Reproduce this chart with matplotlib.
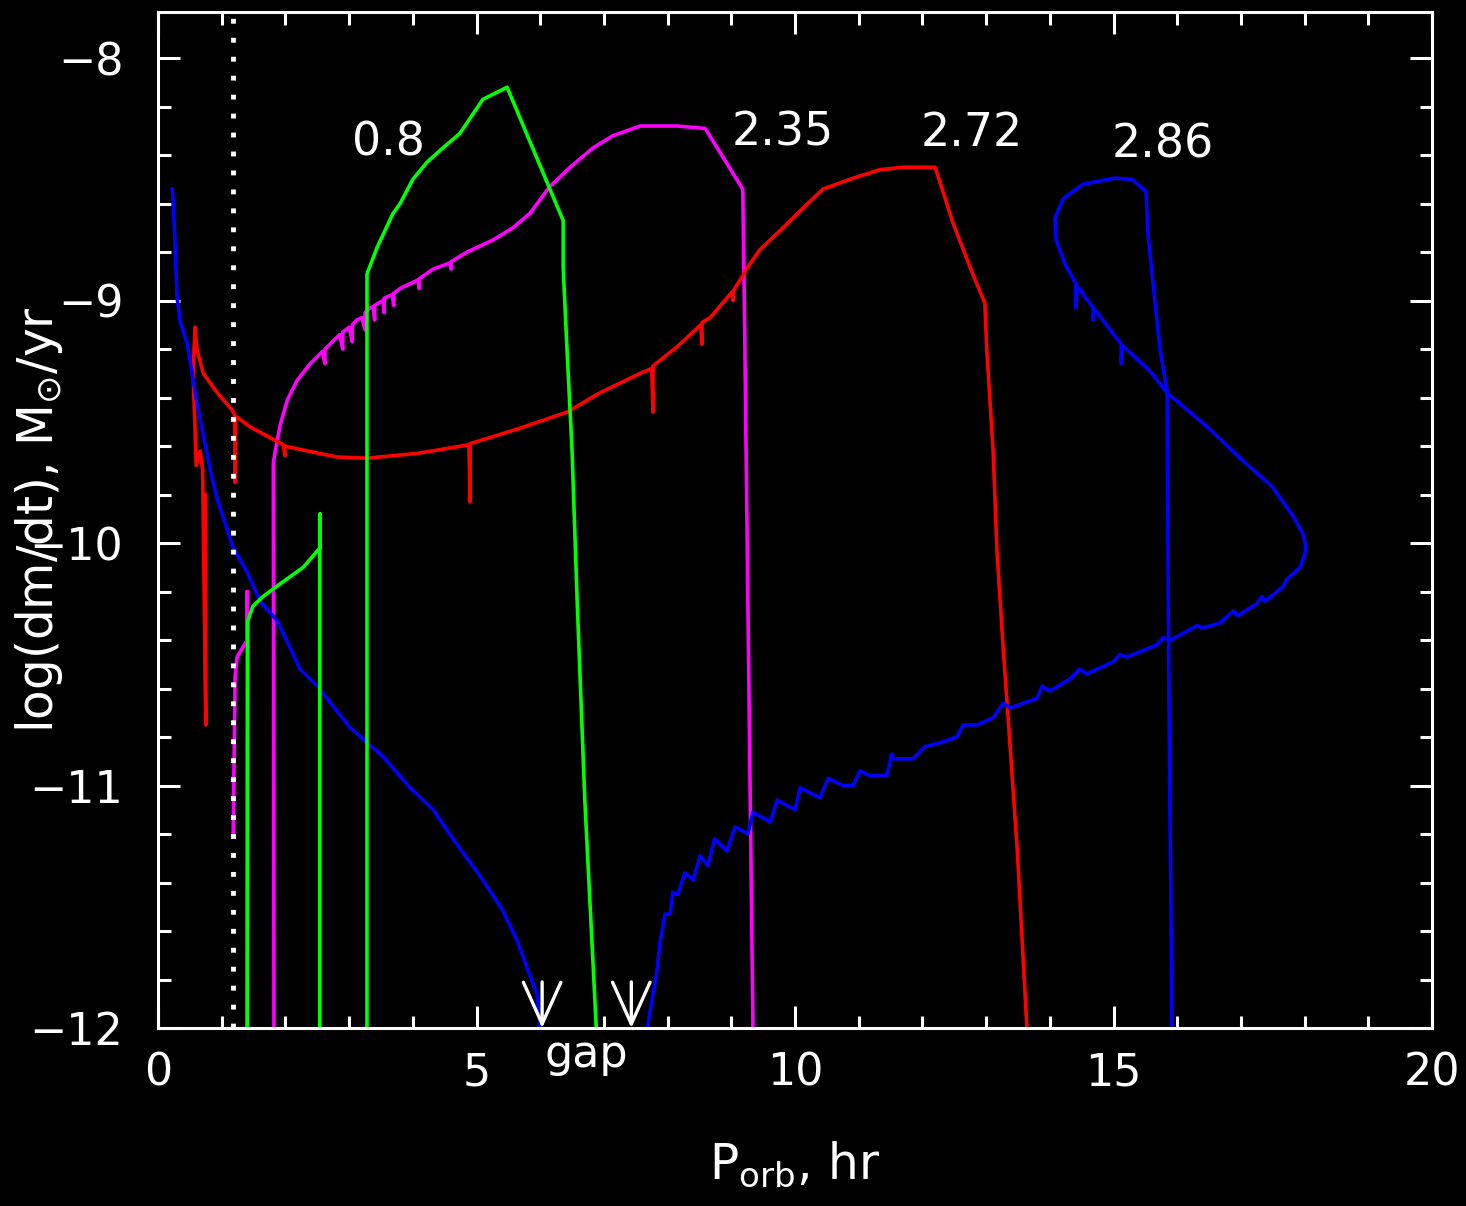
import matplotlib
matplotlib.use("Agg")
import matplotlib.pyplot as plt

# mass transfer tracks, log(dm/dt) vs P_orb (hr)
# blue track (2.86): loop + lower branch down to the gap
blue1_p = [15.92, 15.87, 15.84, 15.73, 15.62, 15.54, 15.51, 15.29, 15.02, 14.52, 14.21, 14.08, 14.10, 14.24,
           14.41, 14.41, 14.43, 14.68, 14.68, 14.70, 15.12, 15.12, 15.14, 15.57, 15.84, 16.47, 16.99, 17.50,
           17.82, 17.97, 18.02, 18.01, 17.93, 17.72, 17.66, 17.38, 17.33, 17.25, 16.95, 16.88, 16.67, 16.39,
           16.31, 16.25, 15.89, 15.78, 15.68, 15.21, 15.10, 14.99, 14.58, 14.47, 14.32, 14.00, 13.88, 13.80,
           13.38, 13.27, 13.11, 12.86, 12.64, 12.54, 12.32, 12.04, 11.85, 11.65, 11.54, 11.52, 11.44, 11.18,
           11.02, 10.91, 10.75, 10.52, 10.39, 10.08, 10.00, 9.72, 9.61, 9.34, 9.26, 9.06, 8.93, 8.74, 8.63,
           8.51, 8.40, 8.27, 8.16, 8.08, 8.04, 7.96, 7.88, 7.83, 7.68]
blue1_m = [-12.0, -10.65, -9.37, -9.20, -8.93, -8.72, -8.55, -8.50, -8.495, -8.52, -8.58, -8.66, -8.75, -8.85,
           -8.93, -9.03, -8.94, -9.03, -9.08, -9.035, -9.18, -9.26, -9.185, -9.29, -9.38, -9.52, -9.65, -9.77,
           -9.89, -9.96, -10.01, -10.04, -10.10, -10.15, -10.18, -10.24, -10.22, -10.25, -10.30, -10.28, -10.33,
           -10.35, -10.34, -10.35, -10.40, -10.39, -10.42, -10.47, -10.46, -10.49, -10.54, -10.52, -10.56,
           -10.61, -10.59, -10.64, -10.68, -10.66, -10.72, -10.75, -10.75, -10.80, -10.82, -10.84, -10.89,
           -10.89, -10.89, -10.87, -10.96, -10.96, -10.94, -11.00, -11.00, -10.97, -11.05, -11.01, -11.10,
           -11.06, -11.15, -11.11, -11.20, -11.17, -11.27, -11.22, -11.33, -11.29, -11.39, -11.36, -11.45,
           -11.44, -11.53, -11.53, -11.65, -11.77, -12.0]
# blue track below the gap
blue2_p = [6.00, 5.95, 5.79, 5.64, 5.40, 5.10, 4.63, 4.32, 3.96, 3.53, 3.01, 2.50, 2.23, 2.07, 1.87, 1.60,
           1.40, 1.18, 0.93, 0.82, 0.61, 0.46, 0.35, 0.30, 0.27, 0.24, 0.22]
blue2_m = [-12.0, -11.86, -11.75, -11.64, -11.51, -11.39, -11.22, -11.10, -11.01, -10.88, -10.76, -10.59,
           -10.52, -10.43, -10.32, -10.24, -10.12, -10.02, -9.82, -9.70, -9.42, -9.18, -9.09, -8.99, -8.79,
           -8.59, -8.54]

# red track (2.72)
red_p = [13.64, 13.49, 13.38, 13.27, 13.17, 13.11, 13.01, 12.98, 12.79, 12.48, 12.20, 11.70, 11.33, 10.86,
         10.44, 10.08, 9.81, 9.45, 9.29, 9.03, 9.03, 9.01, 8.67, 8.54, 8.54, 8.52, 8.15, 7.77, 7.77, 7.75,
         7.57, 6.94, 6.42, 5.64, 4.90, 4.90, 4.88, 4.07, 3.28, 2.81, 2.34, 1.99, 1.99, 1.97, 1.44, 1.24, 1.21,
         1.21, 1.20, 1.16, 0.93, 0.71, 0.61, 0.58, 0.55, 0.60, 0.66, 0.70, 0.75, 0.74]
red_m = [-12.0, -11.27, -10.85, -10.44, -10.03, -9.62, -9.20, -9.01, -8.89, -8.68, -8.45, -8.45, -8.46, -8.50,
         -8.54, -8.63, -8.70, -8.79, -8.85, -8.96, -9.00, -8.965, -9.07, -9.09, -9.18, -9.10, -9.19, -9.27,
         -9.46, -9.28, -9.30, -9.38, -9.46, -9.53, -9.59, -9.83, -9.595, -9.63, -9.65, -9.645, -9.62, -9.60,
         -9.64, -9.595, -9.52, -9.48, -9.48, -9.75, -9.47, -9.45, -9.38, -9.30, -9.20, -9.11, -9.30, -9.68,
         -9.62, -9.70, -10.75, -9.80]

# magenta track (2.35)
mag1_p = [9.34, 9.26, 9.21, 9.18, 8.59, 8.15, 7.57, 7.14, 6.83, 6.47, 6.15, 5.84, 5.57, 5.26, 4.85, 4.60,
          4.60, 4.58, 4.32, 4.10, 4.10, 4.08, 3.80, 3.70, 3.70, 3.68, 3.55, 3.55, 3.53, 3.40, 3.40, 3.38, 3.33,
          3.25, 3.25, 3.20, 3.12, 3.05, 3.05, 3.00, 2.90, 2.90, 2.85, 2.70, 2.62, 2.62, 2.58, 2.39, 2.18,
          2.03, 1.92, 1.84, 1.81, 1.82]
mag1_m = [-12.0, -10.24, -9.13, -8.54, -8.29, -8.28, -8.28, -8.32, -8.37, -8.45, -8.53, -8.64, -8.70, -8.75,
          -8.80, -8.84, -8.87, -8.845, -8.87, -8.91, -8.95, -8.915, -8.95, -8.97, -9.02, -8.975, -8.99, -9.05,
          -9.00, -9.02, -9.08, -9.025, -9.03, -9.05, -9.12, -9.07, -9.08, -9.10, -9.17, -9.11, -9.13, -9.20,
          -9.14, -9.18, -9.20, -9.26, -9.21, -9.26, -9.33, -9.41, -9.51, -9.62, -9.67, -12.0]
mag2_p = [1.40, 1.40, 1.40, 1.24, 1.21, 1.18]
mag2_m = [-12.0, -10.20, -10.40, -10.47, -10.55, -11.20]

# green track (0.8)
green1_p = [6.88, 6.70, 6.58, 6.50, 6.42, 6.36, 6.36, 5.48, 5.10, 4.74, 4.43, 4.22, 4.00, 3.80, 3.69, 3.44,
            3.28, 3.28]
green1_m = [-12.0, -11.06, -10.24, -9.62, -9.20, -8.86, -8.67, -8.12, -8.17, -8.31, -8.38, -8.43, -8.50, -8.60,
            -8.64, -8.78, -8.89, -12.0]
green2_p = [2.54, 2.54, 2.54, 2.28, 1.96, 1.65, 1.49, 1.41, 1.40]
green2_m = [-12.0, -9.88, -10.02, -10.10, -10.16, -10.22, -10.26, -10.32, -12.0]

mass_labels = ["0.8", "2.35", "2.72", "2.86"]
label_p = [3.61, 9.80, 12.78, 15.78]
label_m = [-8.35, -8.31, -8.31, -8.36]

p_min = 1.18          # dotted vertical line
gap_edges = [6.03, 7.43]

fig = plt.figure(figsize=(14.66, 12.06), dpi=100, facecolor="black")
ax = fig.add_axes([0.1078, 0.1476, 0.869, 0.8424], facecolor="black")

lw = 2.6
ax.plot(mag1_p, mag1_m, color="#ff00ff", lw=lw)
ax.plot(mag2_p, mag2_m, color="#ff00ff", lw=lw)
ax.plot(red_p, red_m, color="#ff0000", lw=lw)
ax.plot(blue1_p, blue1_m, color="#0000ff", lw=lw)
ax.plot(blue2_p, blue2_m, color="#0000ff", lw=lw)
ax.plot(green1_p, green1_m, color="#00ff00", lw=lw)
ax.plot(green2_p, green2_m, color="#00ff00", lw=lw)

ax.axvline(p_min, color="white", lw=3.5, linestyle=(0, (1, 2.9)))

for txt, x, y in zip(mass_labels, label_p, label_m):
    ax.text(x, y, txt, color="white", fontsize=33, ha="center", va="center")

for g in gap_edges:
    ax.annotate("", xy=(g, -12.0), xytext=(g, -11.81),
                arrowprops=dict(arrowstyle="->,head_length=3.0,head_width=1.35", color="white", lw=2.4,
                                shrinkA=0, shrinkB=0))
ax.text(6.73, -12.02, "gap", color="white", fontsize=32, ha="center", va="top")

ax.set_xlim(0, 20)
ax.set_ylim(-12, -7.81)
ax.set_xticks([0, 5, 10, 15, 20])
ax.set_xticks(range(0, 21), minor=True)
ax.set_yticks([-12, -11, -10, -9, -8])
ax.set_yticks([-12 + 0.2 * i for i in range(21)], minor=True)

for s in ax.spines.values():
    s.set_color("white")
    s.set_linewidth(2.2)
ax.tick_params(which="both", direction="in", top=True, right=True, colors="white", width=2.2,
               labelsize=32)
ax.tick_params(which="major", length=16)
ax.tick_params(which="minor", length=9)
ax.tick_params(axis="y", pad=25)
ax.tick_params(axis="x", pad=17)

ax.set_xlabel(r"P$_{\rm orb}$, hr", color="white", fontsize=35)
ax.set_ylabel(r"log(dm/dt), M$_{\odot}$/yr", color="white", fontsize=35)
ax.xaxis.set_label_coords(0.5, -0.11)
ax.yaxis.set_label_coords(-0.073, 0.5)

plt.savefig("out.png", dpi=100, facecolor="black")
